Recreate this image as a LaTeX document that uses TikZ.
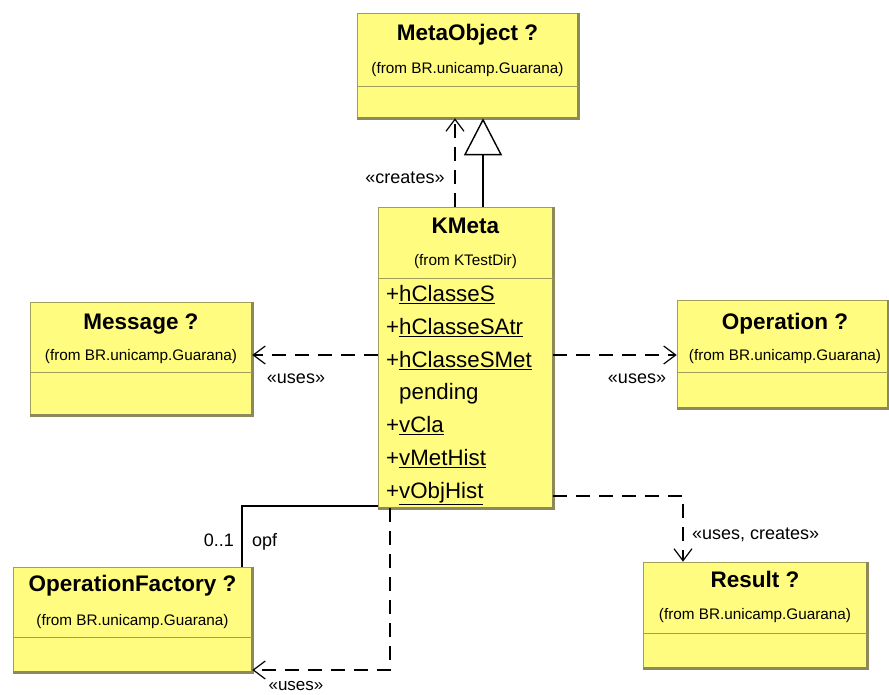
\documentclass[tikz,border=0pt]{standalone}
\usepackage{fontspec}
\setmainfont{Liberation Sans}
\usetikzlibrary{arrows.meta}
\definecolor{umlyellow}{RGB}{255,252,128}
\definecolor{boxline}{RGB}{160,158,90}
\definecolor{shadowc}{RGB}{140,138,90}
\begin{document}
\begin{tikzpicture}[x=1pt,y=-1pt,
  box/.style={draw=boxline, fill=umlyellow, line width=0.6pt, inner sep=0pt},
  shadowline/.style={draw=shadowc, line width=2.6pt},
  sepline/.style={draw=boxline, line width=0.8pt},
  ttl/.style={font=\fontsize{22.5}{26}\selectfont\bfseries, inner sep=0pt, anchor=mid, yshift=-4pt},
  sub/.style={font=\fontsize{15.3}{18}\selectfont, inner sep=0pt, anchor=mid, yshift=-2pt},
  attr/.style={font=\fontsize{22.3}{26}\selectfont, inner sep=0pt, anchor=mid west, yshift=-3pt},
  lbl/.style={font=\fontsize{18}{21}\selectfont, inner sep=0pt, anchor=mid, yshift=-3pt},
  conn/.style={line width=1.4pt, black},
  dep/.style={conn, dash pattern=on 14pt off 9pt, -{Straight Barb[length=12pt,width=18pt,line width=1.2pt]}},
  gen/.style={conn, -{Triangle[open,length=37pt,width=38pt,line width=1.4pt,fill=white]}}
]
\useasboundingbox (0,0) rectangle (889,695);
\fill[white] (0,0) rectangle (889,695);

% ---------- MetaObject
\node[box, minimum width=221pt, minimum height=105pt] (mo) at (467.5,65.5) {};
\draw[shadowline] (mo.north east) -- (mo.south east) -- (mo.south west);
\draw[sepline] (357,86) -- (578,86);
\node[ttl] (mot) at (467.5,34) {MetaObject ?};
\node[sub] (mos) at (467.5,69) {(from BR.unicamp.Guarana)};

% ---------- KMeta
\node[box, minimum width=175pt, minimum height=301pt] (km) at (465.5,357.5) {};
\draw[shadowline] (km.north east) -- (km.south east) -- (km.south west);
\draw[sepline] (378,278) -- (553,278);
\node[ttl] (kmt) at (465.5,227) {KMeta};
\node[sub] (kms) at (465.5,261) {(from KTestDir)};
\node[attr] (a1) at (386,296) {+\underline{hClasseS}};
\node[attr] (a2) at (386,329) {+\underline{hClasseSAtr}};
\node[attr] (a3) at (386,362) {+\underline{hClasseSMet}};
\node[attr] (a4) at (386,394) {\hphantom{+}pending};
\node[attr] (a5) at (386,427) {+\underline{vCla}};
\node[attr] (a6) at (386,460) {+\underline{vMetHist}};
\node[attr] (a7) at (386,493) {+\underline{vObjHist}};

% ---------- Message
\node[box, minimum width=222pt, minimum height=113pt] (msg) at (141,358.5) {};
\draw[shadowline] (msg.north east) -- (msg.south east) -- (msg.south west);
\draw[sepline] (30,372) -- (252,372);
\node[ttl] (msgt) at (141,323) {Message ?};
\node[sub] (msgs) at (141,356) {(from BR.unicamp.Guarana)};

% ---------- Operation
\node[box, minimum width=211pt, minimum height=108pt] (op) at (782.5,354) {};
\draw[shadowline] (op.north east) -- (op.south east) -- (op.south west);
\draw[sepline] (677,372) -- (888,372);
\node[ttl] (opt) at (785,323) {Operation ?};
\node[sub] (ops) at (785,356) {(from BR.unicamp.Guarana)};

% ---------- OperationFactory
\node[box, minimum width=239pt, minimum height=105pt] (of) at (132.5,619.5) {};
\draw[shadowline] (of.north east) -- (of.south east) -- (of.south west);
\draw[sepline] (13,637) -- (252,637);
\node[ttl] (oft) at (132.5,585) {OperationFactory ?};
\node[sub] (ofs) at (132.5,621) {(from BR.unicamp.Guarana)};

% ---------- Result
\node[box, minimum width=224pt, minimum height=106pt] (rs) at (755,615) {};
\draw[shadowline] (rs.north east) -- (rs.south east) -- (rs.south west);
\draw[sepline] (643,633) -- (867,633);
\node[ttl] (rst) at (755,581) {Result ?};
\node[sub] (rss) at (755,615) {(from BR.unicamp.Guarana)};

% ---------- helper coordinates
\coordinate (xc) at (455,0);
\coordinate (xg) at (483,0);
\coordinate (y355) at (0,355);
\coordinate (yas) at (0,506);
\coordinate (xas) at (242,0);
\coordinate (xu) at (390,0);
\coordinate (yu) at (0,670);
\coordinate (yr) at (0,496);
\coordinate (xr) at (683,0);

% ---------- connectors
\draw[dep] (xc |- km.north) -- (xc |- mo.south);
\node[lbl] (lcr) at (405,178) {«creates»};
\draw[gen] (xg |- km.north) -- (xg |- mo.south);

\draw[dep] (km.west |- y355) -- (msg.east |- y355);
\node[lbl] (lu1) at (296,378) {«uses»};
\draw[dep] (km.east |- y355) -- (op.west |- y355);
\node[lbl] (lu2) at (637,378) {«uses»};

\draw[conn, line width=1.2pt] (km.west |- yas) -- (xas |- yas) -- (xas |- of.north);
\node[lbl, anchor=mid east] (lm) at (234,541) {0..1};
\node[lbl, anchor=mid west] (lr) at (252,541) {opf};

\draw[dep] (xu |- km.south) -- (xu |- yu) -- (of.east |- yu);
\node[lbl, font=\fontsize{17}{20}\selectfont] (lu3) at (296,684.5) {«uses»};

\draw[dep] (km.east |- yr) -- (xr |- yr) -- (xr |- rs.north);
\node[lbl, anchor=mid west] (luc) at (692,534) {«uses, creates»};
\end{tikzpicture}
\end{document}
